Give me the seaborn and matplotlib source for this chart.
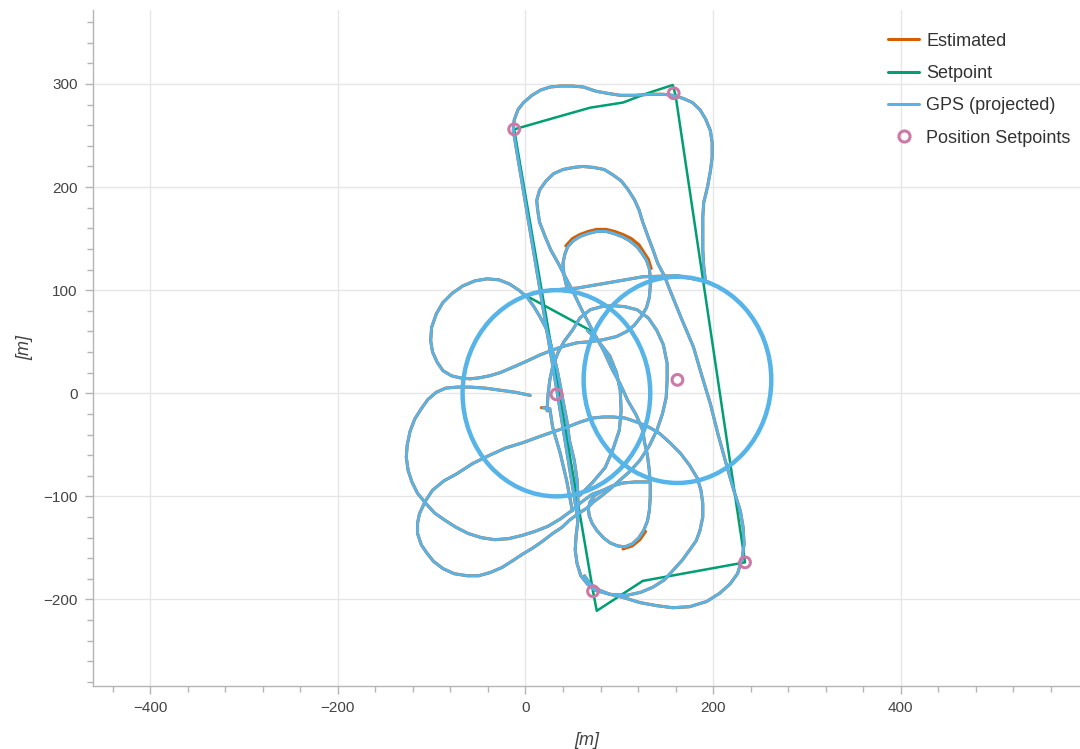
import pandas as pd
import seaborn as sns
import matplotlib.pyplot as plt
import matplotlib.ticker as mtick
from matplotlib.patches import Circle
from matplotlib.lines import Line2D

# colours (bokeh colorblind-ish palette)
c_est = '#d55e00'
c_sp = '#009e73'
c_gps = '#56b4e9'
c_pos = '#cc79a7'

#
# GPS track pieces [m]
#
top_x = [56, 34, -13, -12, -8, -2, 7, 16, 26, 37, 50, 62, 75, 87, 101, 117, 133, 147,
         157, 168, 178, 186, 192, 197, 199, 199, 197, 194, 190, 189, 189, 189, 190, 192]
top_y = [-123, 0, 255, 265, 275, 282, 289, 294, 297, 298, 298, 297, 293, 291, 289, 289,
         290, 290, 289, 286, 282, 275, 266, 255, 243, 229, 215, 200, 185, 171, 156, 139,
         123, 108]

inner_x = [130, 117, 104, 92, 83, 74, 69, 67, 68, 71, 76, 83, 90, 98, 106, 114, 121, 126,
           130, 132, 133, 133, 132, 130, 127, 125, 118, 109, 101, 92, 83, 72, 60, 51, 43,
           35, 27, 21, 15, 13, 12, 15, 22, 30, 40, 51, 61, 73, 84, 93, 102, 109, 116, 121,
           125, 131, 136, 141, 148, 154, 166, 179, 188, 197, 205, 215, 222, 229, 232, 233,
           231, 226, 218, 207, 193, 175, 157, 140, 122, 104, 90, 79, 69, 63]
inner_y = [-86, -86, -87, -90, -94, -99, -105, -112, -119, -126, -133, -140, -145, -148,
           -149, -146, -140, -133, -124, -114, -101, -89, -75, -60, -48, -36, -21, -7, 9,
           24, 42, 60, 81, 98, 112, 126, 139, 152, 166, 178, 187, 197, 206, 213, 217, 219,
           220, 219, 217, 212, 206, 198, 188, 178, 166, 151, 139, 126, 114, 100, 73, 45,
           17, -10, -39, -72, -94, -114, -130, -146, -160, -175, -185, -194, -202, -207,
           -208, -206, -203, -198, -195, -191, -185, -177]

small_x = [44, 41, 40, 42, 45, 51, 58, 67, 76, 86, 94, 103, 111, 119, 124, 129, 132, 133,
           133, 132, 129, 123, 116, 108, 97, 83, 69, 55, 42, 29, 15, 1, -14, -27, -38, -49,
           -59, -70, -79, -88, -94, -99, -101, -100, -95, -88, -78, -67, -54, -41, -28, -17,
           -7, 2, 9, 15, 22, 26, 30, 34, 37, 40, 44, 47, 52, 55, 56, 56, 54, 53, 55, 59, 66,
           74]
small_y = [103, 115, 126, 135, 142, 148, 152, 155, 157, 157, 155, 152, 148, 142, 136, 129,
           121, 113, 103, 93, 83, 74, 66, 60, 55, 52, 50, 49, 46, 42, 37, 31, 25, 20, 17,
           15, 14, 15, 17, 22, 30, 40, 51, 64, 77, 88, 97, 104, 109, 111, 110, 106, 100, 93,
           84, 75, 63, 51, 37, 22, 8, -7, -26, -46, -65, -84, -104, -123, -138, -152, -165,
           -177, -185, -191]

lobe_x = [5, -11, -27, -43, -59, -73, -85, -95, -104, -111, -118, -123, -126, -127, -125,
          -121, -115, -106, -97, -86, -74, -61, -47, -33, -18, -4, 10, 24, 37, 49, 59, 71,
          83]
lobe_y = [-2, 1, 3, 5, 6, 6, 5, 1, -6, -15, -25, -37, -50, -62, -75, -86, -97, -107, -116,
          -123, -130, -136, -140, -142, -141, -138, -134, -129, -122, -114, -106, -98, -94]

low_x = [74, 90, 108, 123, 136, 148, 157, 167, 175, 182, 186, 189, 189, 187, 183, 175, 165,
         154, 143, 132, 119, 106, 93, 83, 72, 58, 44, 34, 15, -3, -21, -38, -56, -73, -87,
         -99, -107, -113, -115, -115, -111, -105, -98, -88, -76, -62, -50, -38, -25, -13,
         -3, 8, 19, 29, 39, 47, 56, 66, 73, 79, 90, 101, 111, 122, 132, 140, 146, 150, 151,
         151, 147, 140, 131, 119, 106, 93, 81, 69, 58, 50, 41, 35, 29, 26, 24, 23]
low_y = [-191, -195, -196, -193, -188, -181, -172, -162, -152, -143, -133, -120, -107, -94,
         -82, -70, -58, -48, -39, -33, -28, -24, -23, -23, -24, -28, -33, -36, -42, -48,
         -53, -60, -68, -78, -85, -94, -105, -117, -126, -136, -147, -155, -163, -170, -175,
         -177, -177, -174, -169, -162, -156, -150, -143, -136, -130, -123, -117, -111, -105,
         -101, -93, -84, -76, -65, -51, -36, -20, -4, 13, 29, 47, 61, 73, 81, 84, 85, 84,
         81, 73, 61, 50, 40, 26, 13, -2, -17]

arc_x = [66, 79, 90, 97, 101, 102, 100, 93, 85, 72, 58]
arc_y = [61, 49, 36, 20, 3, -17, -36, -55, -72, -86, -99]

start_x = [19, 26, 29, 37, 44, 50]
start_y = [-14, -15, -33, -58, -85, -114]

link_x = [26, 55, 87, 125, 162, 190]
link_y = [100, 102, 107, 113, 114, 109]

# estimated track where it separates from GPS
est_loop_x = [43, 50, 58, 67, 76, 86, 95, 104, 113, 121, 126, 131, 134]
est_loop_y = [143, 150, 154, 157, 159, 159, 157, 154, 150, 144, 137, 130, 121]
est_bot_x = [104, 114, 122, 128]
est_bot_y = [-151, -148, -142, -134]
est_start_x = [17, 23, 24]
est_start_y = [-14, -14, -17]

# loiter circles: centre x, centre y, radius [m]
loiter_cx = [33, 162]
loiter_cy = [0, 13]
loiter_r = [100, 100]

# setpoint path
sp_x = [72, -12, 34, 69, 104, 130, 157, 160, 234, 125, 76, 72]
sp_y = [-192, 256, 268, 277, 282, 291, 299, 289, -164, -182, -211, -192]
sp_link_x = [2, 69]
sp_link_y = [94, 61]

# position setpoints
pos_x = [-12, 158, 33, 162, 234, 72]
pos_y = [256, 291, -1, 13, -164, -192]


def pieces_df(pieces):
    return pd.concat([pd.DataFrame({'x': px, 'y': py, 'seg': i})
                      for i, (px, py) in enumerate(pieces)], ignore_index=True)


gps = pieces_df([(top_x, top_y), (inner_x, inner_y), (small_x, small_y),
                 (lobe_x, lobe_y), (low_x, low_y), (arc_x, arc_y),
                 (start_x, start_y), (link_x, link_y)])
est = pieces_df([(est_loop_x, est_loop_y), (est_bot_x, est_bot_y),
                 (est_start_x, est_start_y)])
sp = pieces_df([(sp_x, sp_y), (sp_link_x, sp_link_y)])

sns.set_theme(style='white')
plt.rcParams['font.family'] = ['Liberation Sans', 'DejaVu Sans']

fig = plt.figure(figsize=(10.8, 7.49), dpi=100)
ax = fig.add_axes([0.086, 0.084, 0.914, 0.903])

line_kw = dict(x='x', y='y', units='seg', estimator=None, sort=False, ax=ax, legend=False)

# estimated (below everything)
sns.lineplot(data=gps, color=c_est, lw=2.25, **line_kw)
sns.lineplot(data=est, color=c_est, lw=2.2, **line_kw)
for cx, cy, r in zip(loiter_cx, loiter_cy, loiter_r):
    ax.add_patch(Circle((cx, cy), r, fill=False, ec=c_sp, lw=2.0, zorder=2))

# setpoint
sns.lineplot(data=sp, color=c_sp, lw=1.8, **line_kw)

# gps
sns.lineplot(data=gps, color=c_gps, lw=2.05, **line_kw)
for cx, cy, r in zip(loiter_cx, loiter_cy, loiter_r):
    ax.add_patch(Circle((cx, cy), r, fill=False, ec=c_gps, lw=3.2, zorder=3))

ax.scatter(pos_x, pos_y, s=60, facecolors='none', edgecolors=c_pos, linewidths=2.2,
           zorder=5)

ax.set_xlim(-461, 591)
ax.set_ylim(-284, 372)
ax.xaxis.set_major_locator(mtick.MultipleLocator(200))
ax.xaxis.set_minor_locator(mtick.MultipleLocator(40))
ax.yaxis.set_major_locator(mtick.MultipleLocator(100))
ax.yaxis.set_minor_locator(mtick.MultipleLocator(20))
ax.grid(True, which='major', color='#e6e6e6', lw=1)
ax.set_axisbelow(True)
for s in ['top', 'right']:
    ax.spines[s].set_visible(False)
for s in ['left', 'bottom']:
    ax.spines[s].set_color('#b5b5b5')
    ax.spines[s].set_linewidth(1)
ax.tick_params(which='major', direction='out', length=6, width=1, color='#b5b5b5',
               labelsize=11, labelcolor='#444444', pad=5, left=True, bottom=True)
ax.tick_params(which='minor', direction='out', length=4, width=1, color='#b5b5b5',
               left=True, bottom=True)
ax.set_xlabel('[m]', fontstyle='italic', fontsize=13, color='#444444', labelpad=12)
ax.set_ylabel('[m]', fontstyle='italic', fontsize=13, color='#444444', labelpad=7)

handles = [Line2D([], [], color=c_est, lw=2.2),
           Line2D([], [], color=c_sp, lw=2.2),
           Line2D([], [], color=c_gps, lw=2.2),
           Line2D([], [], ls='none', marker='o', ms=8, mfc='none', mec=c_pos, mew=2.2)]
labels = ['Estimated', 'Setpoint', 'GPS (projected)', 'Position Setpoints']
ax.legend(handles, labels, loc='upper right', bbox_to_anchor=(1.007, 0.99), frameon=False,
          fontsize=13, labelspacing=0.85, handlelength=1.7, handletextpad=0.4,
          labelcolor='#333333')

fig.savefig('out.png', dpi=100)
